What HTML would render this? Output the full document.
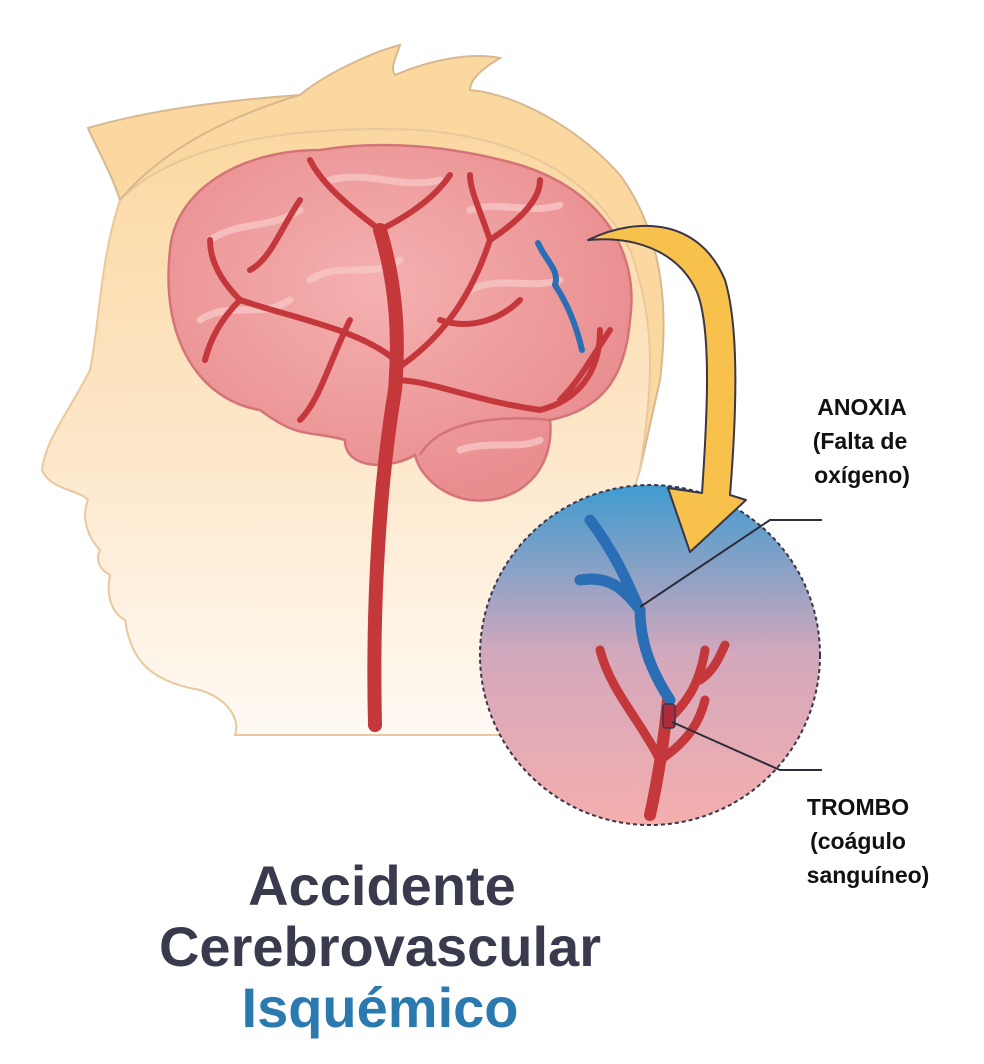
<!DOCTYPE html>
<html><head><meta charset="utf-8"><style>
html,body{margin:0;padding:0;background:#fff;}
svg{display:block}
</style></head><body>
<svg width="984" height="1064" viewBox="0 0 984 1064" xmlns="http://www.w3.org/2000/svg">
<defs>
<linearGradient id="face" x1="0" y1="0" x2="0" y2="1">
<stop offset="0" stop-color="#fbd8a0"/><stop offset="0.55" stop-color="#fde8cc"/><stop offset="1" stop-color="#fffaf4"/>
</linearGradient>
<linearGradient id="circ" x1="0" y1="0" x2="0" y2="1">
<stop offset="0" stop-color="#3f9bd0"/><stop offset="0.5" stop-color="#d4a8bc"/><stop offset="1" stop-color="#f4aeae"/>
</linearGradient>
<radialGradient id="brain" cx="0.45" cy="0.4" r="0.6">
<stop offset="0" stop-color="#f5b1b0"/><stop offset="1" stop-color="#e98d8f"/>
</radialGradient>
</defs>
<path d="M88,128 C150,110 230,100 300,95 C330,70 380,50 400,45 C395,60 390,68 395,75 C430,60 470,52 500,58 C480,70 470,80 470,90 C520,95 580,130 620,175 C660,230 670,300 660,380 L640,470 L560,470 L300,300 L120,200 C110,170 95,145 88,128 Z" fill="#fbd8a0" stroke="#d8b890" stroke-width="2"/>
<path d="M120,200 C100,260 100,320 90,370 C70,410 45,440 42,470 C50,490 80,490 88,500 C80,520 90,540 100,550 C95,560 100,570 110,575 C105,600 115,615 125,620 C130,650 140,680 200,690 C230,700 240,720 235,735 L560,735 L640,470 C650,400 660,330 630,250 C600,190 540,140 420,130 C300,125 180,140 120,200 Z" fill="url(#face)" stroke="#e8c89c" stroke-width="2"/>
<path d="M300,95 C250,110 170,140 120,200" fill="none" stroke="#d8b890" stroke-width="2"/>
<path d="M170,250 C175,190 240,150 320,150 C380,140 450,145 520,165 C600,190 640,250 630,320 C625,380 600,410 550,420 C555,470 520,505 470,500 C440,495 420,475 415,455 C390,470 345,470 345,440 C310,430 300,440 260,410 C200,400 160,340 170,250 Z" fill="url(#brain)" stroke="#d57478" stroke-width="2.5"/>
<path d="M420,455 C440,420 500,415 550,420" fill="none" stroke="#d57478" stroke-width="2.5"/>
<g fill="none" stroke="#f7c6c4" stroke-width="7" stroke-linecap="round" opacity="0.8">
<path d="M210,240 C240,220 270,230 300,210"/><path d="M330,180 C370,170 400,190 440,180"/><path d="M470,210 C500,200 530,215 560,205"/><path d="M200,320 C230,300 260,320 290,300"/><path d="M470,290 C500,275 530,290 560,280"/><path d="M460,450 C490,440 520,450 540,440"/><path d="M310,280 C340,260 370,280 400,260"/>
</g>
<g fill="none" stroke="#c4383c" stroke-linecap="round" stroke-linejoin="round">
<path d="M375,725 C372,600 380,480 395,390 C400,330 395,280 380,230" stroke-width="14"/>
<path d="M395,360 C360,330 300,320 240,300 M395,370 C440,340 470,300 490,240 M490,240 C480,210 470,190 470,175 M490,240 C520,220 540,200 540,180 M395,380 C430,380 470,400 540,410 C580,400 600,370 600,330 M560,400 C580,380 590,360 610,330 M380,230 C340,200 320,180 310,160 M380,230 C420,210 440,190 450,175 M240,300 C220,280 210,260 210,240 M240,300 C220,320 210,340 205,360 M350,320 C330,360 320,400 300,420 M440,320 C470,330 500,320 520,300 M300,200 C280,230 270,260 250,270" stroke-width="6"/>
</g>
<path d="M538,243 C545,260 560,270 555,285 C565,300 575,320 582,350" fill="none" stroke="#2a6fb5" stroke-width="6" stroke-linecap="round"/>
<circle cx="650" cy="655" r="170" fill="url(#circ)" stroke="#3a3548" stroke-width="2" stroke-dasharray="4 3"/>
<g fill="none" stroke="#c4383c" stroke-linecap="round" stroke-linejoin="round">
<path d="M650,815 C660,770 665,730 668,700" stroke-width="12"/>
<path d="M660,760 C640,720 610,690 600,650 M668,720 C690,700 700,680 705,650 M700,680 C715,670 720,655 725,645 M660,760 C690,740 700,720 705,700" stroke-width="9"/>
</g>
<path d="M590,520 C620,560 630,590 640,610 M580,580 C610,575 625,590 640,610 C640,640 650,670 670,700" fill="none" stroke="#2a6fb5" stroke-width="11" stroke-linecap="round"/>
<rect x="663" y="704" width="12" height="24" rx="3" fill="#b02a3a" stroke="#3a3548" stroke-width="1.5"/>
<!-- arrow -->
<path d="M588,240 C640,215 700,220 725,280 C740,330 736,420 730,495 L746,500 L690,552 L668,488 L702,493 C707,420 712,330 697,292 C677,248 630,236 588,240 Z" fill="#f8c14c" stroke="#3a3548" stroke-width="2" stroke-linejoin="round"/>
<polyline points="640,607 770,520 822,520" fill="none" stroke="#2c2c3a" stroke-width="2"/>
<polyline points="672,722 780,770 822,770" fill="none" stroke="#2c2c3a" stroke-width="2"/>
<g font-family="Liberation Sans, sans-serif" font-weight="bold" font-size="23" fill="#111" text-anchor="middle">
<text x="862" y="415">ANOXIA</text><text x="860" y="449">(Falta de</text><text x="862" y="483">oxígeno)</text>
<text x="858" y="815">TROMBO</text><text x="858" y="849">(coágulo</text><text x="868" y="883">sanguíneo)</text>
</g>
<g font-family="Liberation Sans, sans-serif" font-weight="bold" font-size="56" text-anchor="middle">
<text x="382" y="905" fill="#3a3a4e">Accidente</text>
<text x="380" y="966" fill="#3a3a4e">Cerebrovascular</text>
<text x="380" y="1027" fill="#2a7ab0">Isquémico</text>
</g>
</svg>
</body></html>
